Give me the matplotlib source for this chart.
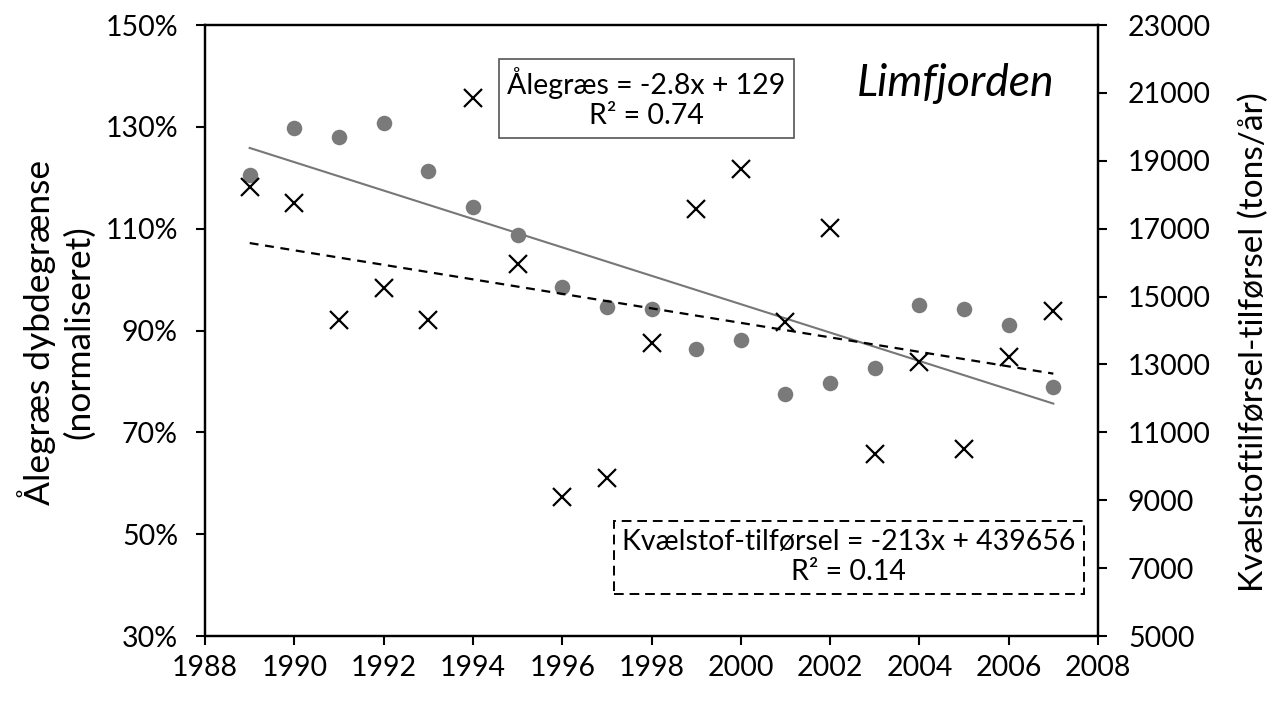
import numpy as np
import matplotlib
matplotlib.use("Agg")
import matplotlib.pyplot as plt
from matplotlib.ticker import FuncFormatter

# data
years = np.arange(1989, 2008)
eelgrass_pct = [120.5, 129.8, 128.0, 130.8, 121.3, 114.3, 108.8, 98.5, 94.6, 94.2,
                86.4, 88.1, 77.5, 79.7, 82.6, 95.0, 94.2, 91.1, 78.9]
nitrogen_tons = [18230, 17760, 14310, 15250, 14310, 20850, 15960, 9100, 9660, 13630,
                 17580, 18760, 14250, 17020, 10360, 13070, 10510, 13220, 14580]
x_ticks = np.arange(1988, 2009, 2)
left_ticks = np.arange(30, 151, 20)
right_ticks = np.arange(5000, 23001, 2000)

plt.rcParams['font.family'] = ['Lato', 'DejaVu Sans']
plt.rcParams['font.size'] = 20.5

fig = plt.figure(figsize=(12.76, 7.01), dpi=100)
ax = fig.add_axes([0.1607, 0.0927, 0.6998, 0.8716])
ax2 = ax.twinx()

# eelgrass dots + solid trend
ax.scatter(years, eelgrass_pct, s=125, color='#7a7a7a', zorder=3, linewidths=0)
k1, m1 = np.polyfit(years, eelgrass_pct, 1)
ax.plot(years, k1 * years + m1, color='#777777', lw=1.5, zorder=2)

# nitrogen crosses + dashed trend
ax2.plot(years, nitrogen_tons, ls='none', marker='x', ms=12.5, mew=1.6, color='black', zorder=3)
k2, m2 = np.polyfit(years, nitrogen_tons, 1)
ax2.plot(years, k2 * years + m2, color='black', lw=1.6, ls=(0, (4, 3)), zorder=2)

ax.set_xlim(1988, 2008)
ax.set_ylim(30, 150)
ax2.set_ylim(5000, 23000)
ax.set_xticks(x_ticks)
ax.set_yticks(left_ticks)
ax2.set_yticks(right_ticks)
ax.yaxis.set_major_formatter(FuncFormatter(lambda v, p: '%d%%' % v))

for a in (ax, ax2):
    for s in a.spines.values():
        s.set_linewidth(1.6)
        s.set_color('black')
    a.tick_params(direction='out', length=6.5, width=1.5, colors='black', labelsize=20.5)
ax.tick_params(axis='x', pad=7)
ax.tick_params(axis='y', pad=13)
ax2.tick_params(axis='y', pad=15)

fig.text(0.044, 0.526, 'Ålegræs dybdegrænse\n(normaliseret)', rotation=90,
         ha='center', va='center', fontsize=25.5, linespacing=1.3)
fig.text(0.983, 0.512, 'Kvælstoftilførsel-tilførsel (tons/år)', rotation=90,
         ha='center', va='center', fontsize=24)

ax2.text(0.84, 0.905, 'Limfjorden', transform=ax2.transAxes, ha='center', va='center',
         fontsize=32, style='italic')
ax2.text(0.494, 0.88, 'Ålegræs = -2.8x + 129\nR² = 0.74', transform=ax2.transAxes,
         ha='center', va='center', fontsize=20.5, linespacing=1.2,
         bbox=dict(boxstyle='square,pad=0.3', fc='white', ec='#555555', lw=1.2))
ax2.text(0.721, 0.129, 'Kvælstof-tilførsel = -213x + 439656\nR² = 0.14', transform=ax2.transAxes,
         ha='center', va='center', fontsize=20.5, linespacing=1.2,
         bbox=dict(boxstyle='square,pad=0.3', fc='white', ec='black', lw=1.4, ls=(0, (5, 3))))

fig.savefig('out.png', dpi=100)
